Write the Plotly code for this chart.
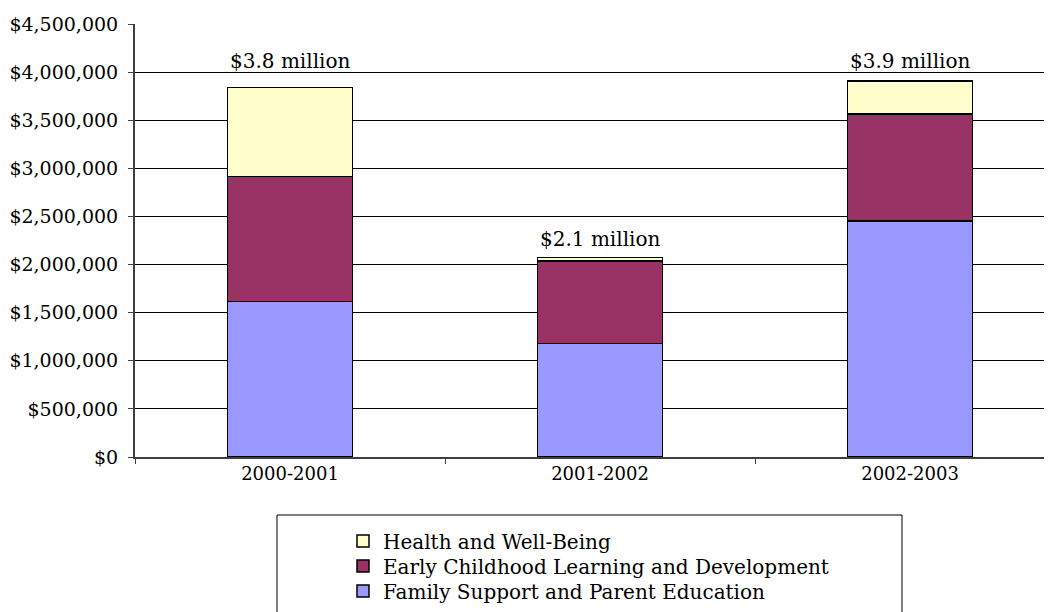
import plotly.graph_objects as go

years = ["2000-2001", "2001-2002", "2002-2003"]
family_support = [1616000, 1178000, 2453000]
early_childhood = [1298000, 859000, 1113000]
health = [929000, 39000, 343000]
total_labels = ["$3.8 million", "$2.1 million", "$3.9 million"]
label_y = [4116000, 2266000, 4116000]
y_ticks = [0, 500000, 1000000, 1500000, 2000000, 2500000, 3000000, 3500000, 4000000, 4500000]
y_tick_text = ["$0", "$500,000", "$1,000,000", "$1,500,000", "$2,000,000", "$2,500,000",
               "$3,000,000", "$3,500,000", "$4,000,000", "$4,500,000"]

FONT = "DejaVu Serif"
line = dict(color="black", width=1.5)

fig = go.Figure()
fig.add_trace(go.Bar(x=years, y=family_support, name="Family Support and Parent Education",
                     marker=dict(color="#9999FF", line=line), width=0.403, legend="legend3"))
fig.add_trace(go.Bar(x=years, y=early_childhood, name="Early Childhood Learning and Development",
                     marker=dict(color="#993366", line=line), width=0.403, legend="legend2"))
fig.add_trace(go.Bar(x=years, y=health, name="Health and Well-Being",
                     marker=dict(color="#FFFFCC", line=line), width=0.403, legend="legend"))

for yr, txt, yy in zip(years, total_labels, label_y):
    fig.add_annotation(x=yr, y=yy, text=txt, showarrow=False,
                       font=dict(family=FONT, size=20, color="black"))

# page offset of the figure (body margin 8px); plot area: x 135..1052, y 24..457 on page
PW, PH = 917, 433
def px_x(x):
    return (x - 135) / PW
def px_y(y):
    return (457 - y) / PH

# legend frame
fig.add_shape(type="rect", xref="paper", yref="paper",
              x0=px_x(277), x1=px_x(902), y0=px_y(640), y1=px_y(515),
              line=dict(color="black", width=1), fillcolor="rgba(0,0,0,0)")

def leg(ypix):
    return dict(x=px_x(343), xanchor="left", y=px_y(ypix), yanchor="middle",
                font=dict(family=FONT, size=20, color="black"),
                bgcolor="rgba(0,0,0,0)", borderwidth=0)

fig.update_layout(
    barmode="stack",
    width=1044, height=604,
    margin=dict(l=127, r=0, t=16, b=155, autoexpand=False),
    paper_bgcolor="white", plot_bgcolor="white",
    font=dict(family=FONT, size=16, color="black"),
    showlegend=True,
    legend=leg(541), legend2=leg(566), legend3=leg(591),
    xaxis=dict(range=[-0.5, 2.458], showgrid=False, showline=True, linecolor="#404040",
               linewidth=1.5, ticks="outside", tickson="boundaries", ticklen=5,
               tickcolor="#404040", tickfont=dict(family=FONT, size=18), automargin=False),
    yaxis=dict(range=[0, 4502000], tickvals=y_ticks, ticktext=y_tick_text,
               showgrid=True, gridcolor="black", gridwidth=1, zeroline=False,
               showline=True, linecolor="#404040", linewidth=2, ticks="outside",
               ticklen=5, tickcolor="#404040", ticklabelstandoff=6,
               tickfont=dict(family=FONT, size=19), automargin=False),
)

fig.write_html("out.html")
